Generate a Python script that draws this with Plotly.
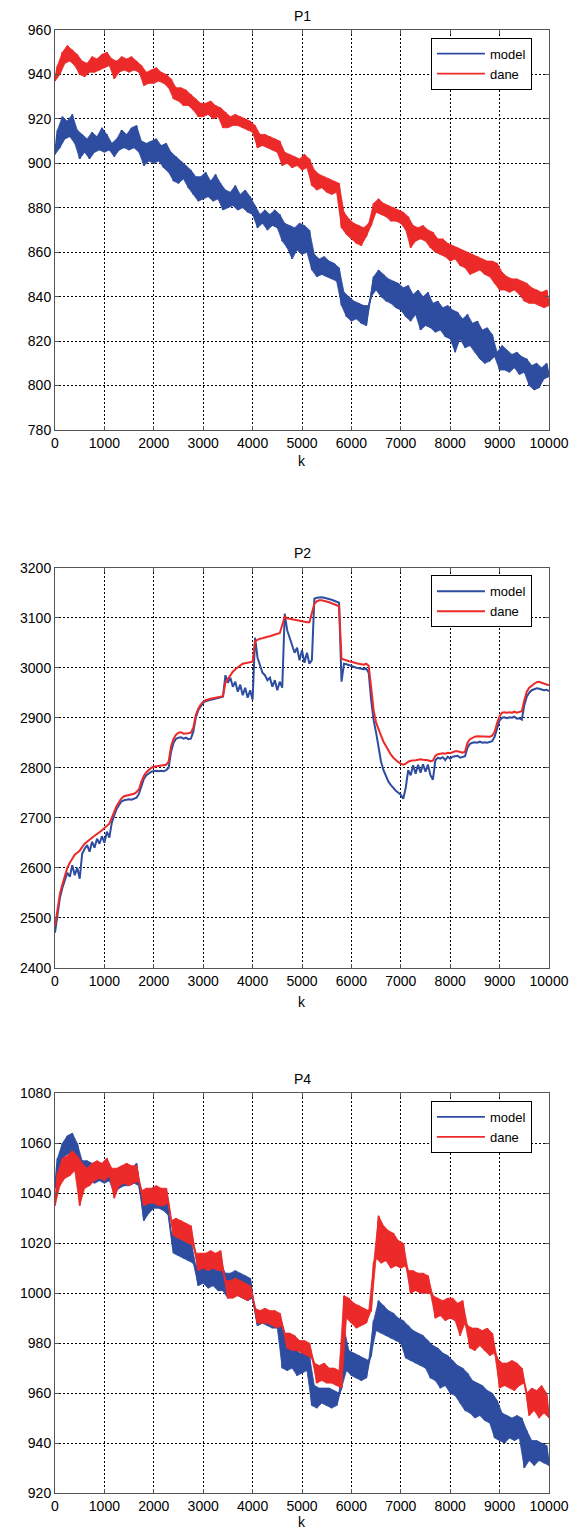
import plotly.graph_objects as go

# sample positions (k), every 50 steps
K = list(range(0, 10001, 50))

# ---------------- P1 ----------------
P1_MODEL = [
    904, 915, 907, 921, 911, 919, 912, 922, 909, 915,
    902, 913, 905, 911, 902, 914, 905, 912, 906, 916,
    905, 913, 906, 909, 903, 911, 906, 915, 907, 913,
    906, 916, 907, 917, 905, 910, 899, 909, 901, 910,
    900, 911, 901, 908, 898, 909, 896, 905, 892, 903,
    891, 901, 893, 899, 889, 897, 886, 894, 883, 894,
    884, 896, 885, 892, 883, 895, 884, 891, 879, 888,
    880, 887, 881, 890, 879, 886, 880, 888, 878, 885,
    877, 881, 871, 877, 873, 879, 870, 877, 872, 879,
    871, 877, 865, 873, 862, 872, 857, 871, 861, 873,
    859, 872, 860, 870, 852, 859, 849, 857, 850, 858,
    849, 856, 848, 855, 847, 853, 836, 842, 831, 840,
    829, 838, 830, 837, 828, 836, 827, 836, 840, 849,
    843, 852, 840, 850, 838, 848, 837, 847, 835, 846,
    834, 844, 831, 845, 829, 841, 832, 843, 825, 840,
    827, 842, 826, 837, 824, 838, 825, 835, 822, 836,
    821, 834, 815, 833, 821, 830, 817, 832, 818, 828,
    815, 829, 812, 825, 810, 826, 811, 823, 813, 815,
    807, 818, 807, 816, 806, 814, 808, 815, 805, 813,
    806, 812, 800, 809, 798, 810, 799, 808, 803, 810,
    804,
]
P1_DANE = [
    937, 944, 940, 950, 945, 953, 946, 951, 944, 949,
    940, 946, 939, 945, 941, 948, 941, 947, 942, 949,
    943, 950, 944, 947, 938, 946, 941, 948, 942, 947,
    941, 948, 942, 946, 941, 944, 935, 941, 936, 942,
    936, 943, 937, 941, 936, 940, 934, 938, 929, 934,
    928, 934, 926, 933, 926, 931, 924, 929, 921, 927,
    921, 927, 922, 928, 920, 926, 921, 925, 916, 923,
    916, 921, 917, 922, 917, 921, 916, 920, 915, 919,
    914, 917, 907, 913, 908, 913, 907, 912, 906, 911,
    905, 910, 899, 905, 900, 904, 898, 903, 899, 902,
    897, 904, 898, 902, 890, 897, 888, 895, 889, 894,
    887, 893, 886, 892, 887, 891, 871, 878, 868, 875,
    866, 873, 864, 872, 863, 871, 867, 873, 872, 882,
    878, 884, 877, 882, 876, 881, 874, 880, 874, 879,
    873, 878, 870, 876, 862, 872, 865, 871, 866, 872,
    865, 870, 862, 869, 860, 866, 859, 866, 858, 864,
    856, 863, 857, 862, 854, 861, 853, 860, 850, 859,
    851, 858, 852, 857, 850, 856, 849, 856, 846, 855,
    843, 851, 843, 849, 842, 848, 843, 848, 841, 847,
    838, 846, 837, 844, 837, 843, 836, 842, 835, 843,
    836,
]

# ---------------- P2 ----------------
P2_MODEL = [
    2470, 2510, 2540, 2560, 2575, 2590, 2582, 2605, 2585, 2600,
    2578, 2628, 2638, 2645, 2632, 2652, 2640, 2658, 2648, 2663,
    2650, 2672, 2660, 2690, 2705, 2718, 2726, 2733, 2735, 2736,
    2737, 2736, 2738, 2740, 2748, 2764, 2778, 2785, 2789, 2792,
    2793, 2794, 2793, 2794, 2793, 2795, 2800, 2832, 2850, 2858,
    2860, 2861, 2858, 2860, 2857, 2858, 2872, 2900, 2915, 2924,
    2930, 2933, 2935, 2936, 2937, 2938, 2939, 2940, 2942, 2985,
    2970, 2980, 2962, 2972, 2952, 2966, 2945, 2960, 2940, 2955,
    2936, 3060, 3020, 3005, 2990, 2985, 2975, 2980, 2962, 2975,
    2955, 2972, 2960, 3108, 3075, 3060, 3045, 3030, 3040, 3015,
    3035, 3010, 3030, 3008, 3015, 3138, 3140, 3141, 3141, 3140,
    3139, 3137, 3136, 3134, 3132, 3130, 2972, 3008, 3007, 3005,
    3003, 3002, 3000, 2999, 2998, 2997, 2998, 2990, 2935, 2895,
    2870, 2840, 2812, 2795, 2782, 2772, 2765, 2759, 2754, 2750,
    2746, 2738, 2760, 2795, 2785, 2805, 2788, 2806, 2790, 2807,
    2792, 2806, 2785, 2776, 2815, 2820, 2818, 2821, 2815, 2822,
    2818, 2822, 2823, 2824, 2820, 2822, 2823, 2840, 2848, 2850,
    2851, 2850, 2852, 2850, 2851, 2850, 2851, 2853, 2862, 2880,
    2895, 2900, 2901, 2899, 2901, 2900, 2902, 2898, 2899, 2896,
    2925, 2942, 2950, 2955, 2957, 2959, 2958, 2957, 2955, 2956,
    2953,
]
P2_DANE = [
    2483, 2520, 2548, 2567, 2585, 2600, 2610, 2618, 2626, 2630,
    2634, 2641, 2648, 2652, 2657, 2660, 2664, 2667, 2671, 2675,
    2679, 2683, 2688, 2700, 2712, 2724, 2732, 2739, 2743, 2744,
    2745, 2746, 2748, 2751, 2757, 2772, 2784, 2791, 2796, 2800,
    2802, 2803, 2804, 2804, 2805, 2806, 2812, 2843, 2858, 2866,
    2870, 2871, 2868, 2868, 2869, 2870, 2880, 2905, 2918, 2926,
    2932, 2935, 2937, 2938, 2939, 2940, 2941, 2942, 2943, 2970,
    2978, 2986, 2992, 2997, 3001, 3005, 3008, 3009, 3010, 3010,
    3012, 3053, 3056, 3058, 3059, 3061, 3062, 3063, 3065, 3066,
    3068, 3069, 3085, 3102, 3099, 3098, 3097, 3096, 3094, 3093,
    3092, 3092, 3091, 3091, 3110, 3128, 3133, 3135, 3135, 3134,
    3133, 3131, 3129, 3127, 3125, 3123, 3018, 3016, 3015, 3013,
    3012, 3010, 3009, 3008, 3007, 3006, 3008, 3004, 2960, 2915,
    2890, 2875, 2864, 2852, 2843, 2834, 2826, 2820, 2815, 2811,
    2808, 2806, 2808, 2812, 2814, 2814, 2815, 2816, 2817, 2816,
    2816, 2815, 2813, 2814, 2824, 2827, 2828, 2829, 2828, 2830,
    2829, 2831, 2833, 2833, 2831, 2830, 2832, 2850, 2857, 2860,
    2862, 2863, 2863, 2862, 2863, 2862, 2862, 2864, 2872, 2890,
    2903, 2910, 2911, 2910, 2911, 2910, 2912, 2910, 2911, 2913,
    2935, 2952, 2960, 2965, 2968, 2971, 2972, 2970, 2968, 2967,
    2965,
]

# ---------------- P4 ----------------
P4_MODEL = [
    1042, 1054, 1049, 1060, 1055, 1063, 1056, 1064, 1055, 1060,
    1047, 1053, 1046, 1053, 1045, 1052, 1044, 1051, 1045, 1051,
    1044, 1052, 1045, 1049, 1040, 1048, 1042, 1050, 1043, 1051,
    1043, 1050, 1044, 1052, 1043, 1038, 1029, 1040, 1032, 1041,
    1034, 1042, 1034, 1041, 1033, 1041, 1031, 1024, 1016, 1024,
    1015, 1023, 1014, 1022, 1013, 1021, 1012, 1011, 1003, 1012,
    1004, 1013, 1002, 1012, 1003, 1011, 1001, 1012, 1001, 1008,
    998, 1008, 1000, 1009, 999, 1008, 998, 1007, 997, 1006,
    998, 993, 987, 993, 988, 993, 987, 992, 986, 992,
    986, 991, 970, 982, 969, 979, 970, 978, 967, 976,
    968, 976, 969, 975, 955, 963, 954, 962, 956, 962,
    955, 962, 954, 961, 955, 960, 962, 986, 969, 977,
    967, 976, 966, 975, 965, 974, 966, 973, 975, 989,
    985, 997, 984, 995, 983, 993, 982, 992, 981, 990,
    980, 989, 974, 987, 973, 985, 972, 984, 971, 983,
    970, 981, 966, 979, 965, 978, 962, 976, 963, 975,
    960, 973, 959, 971, 956, 970, 953, 968, 952, 965,
    950, 964, 951, 963, 949, 961, 948, 960, 942, 957,
    941, 952, 940, 951, 942, 950, 941, 951, 942, 950,
    930, 945, 933, 941, 931, 941, 933, 940, 932, 939,
    931,
]
P4_DANE = [
    1035, 1048, 1043, 1054, 1046, 1055, 1047, 1057, 1049, 1055,
    1035, 1052, 1042, 1050, 1043, 1052, 1045, 1053, 1046, 1052,
    1045, 1054, 1047, 1050, 1038, 1050, 1043, 1051, 1044, 1052,
    1043, 1051, 1044, 1051, 1045, 1041, 1035, 1042, 1036, 1042,
    1036, 1043, 1035, 1042, 1035, 1042, 1036, 1029, 1023, 1030,
    1022, 1029, 1021, 1028, 1020, 1027, 1019, 1016, 1009, 1016,
    1010, 1016, 1009, 1017, 1010, 1016, 1009, 1017, 1009, 1005,
    998, 1005, 998, 1006, 999, 1005, 998, 1004, 997, 1003,
    999, 994, 988, 993, 988, 994, 988, 993, 987, 993,
    986, 992, 987, 984, 978, 984, 977, 983, 977, 981,
    976, 981, 975, 980, 974, 972, 964, 971, 965, 972,
    964, 970, 964, 970, 963, 969, 962, 999, 990, 998,
    988, 996, 986, 995, 987, 994, 988, 993, 993, 1012,
    1014, 1031, 1012, 1027, 1013, 1025, 1010, 1024, 1011, 1021,
    1010, 1020, 1011, 1009, 1000, 1009, 1001, 1008, 1000, 1008,
    1000, 1007, 1000, 999, 990, 998, 991, 997, 989, 998,
    990, 998, 989, 996, 983, 997, 988, 987, 978, 986,
    977, 986, 979, 985, 977, 986, 975, 984, 976, 974,
    962, 972, 963, 972, 962, 973, 961, 972, 963, 970,
    964, 960, 951, 962, 953, 961, 950, 963, 952, 960,
    950,
]

TITLES = ["P1", "P2", "P4"]
Y_RANGES = [(780, 960), (2400, 3200), (920, 1080)]
Y_DTICKS = [20, 100, 20]
X_TICKS = list(range(0, 10001, 1000))

BLUE = "#2E4DA0"
RED = "#EC2A2A"
FONT = "Liberation Sans, Arial, Helvetica, sans-serif"
FS = 14

# the page body has an 8px margin; size the figure so it fits the 581x1531 window
OFF = 8
W, H = 581 - OFF, 1531 - OFF
ML, MR, MT, MB = 50 - OFF, 31, 30 - OFF, 38
PH = H - MT - MB
AX_H = 400
AX_TOPS_PAGE = [30, 567.7, 1093.3]
domains = []
for tp in AX_TOPS_PAGE:
    t = tp - OFF
    top = 1 - (t - MT) / PH
    bot = top - AX_H / PH
    domains.append([max(0, bot), min(1, top)])

series = [(P1_MODEL, P1_DANE), (P2_MODEL, P2_DANE), (P4_MODEL, P4_DANE)]
noisy = [True, False, True]
widths = [1.8, 2.0, 1.8]
legend_names = ["legend", "legend2", "legend3"]

fig = go.Figure()
for i, (mod, dan) in enumerate(series):
    sfx = "" if i == 0 else str(i + 1)
    for name, vals, col in (("model", mod, BLUE), ("dane", dan, RED)):
        if noisy[i]:
            # dense noise band: troughs (even samples) forward, peaks (odd samples) back
            px = K[0::2] + K[1::2][::-1]
            py = vals[0::2] + vals[1::2][::-1]
            fig.add_trace(go.Scatter(x=px, y=py, mode="lines", fill="toself",
                                     fillcolor=col, line=dict(color=col, width=0.8),
                                     xaxis="x" + sfx, yaxis="y" + sfx,
                                     showlegend=False, hoverinfo="skip"))
        fig.add_trace(go.Scatter(x=K, y=vals, mode="lines", name=name,
                                 line=dict(color=col, width=widths[i]),
                                 xaxis="x" + sfx, yaxis="y" + sfx,
                                 legend=legend_names[i]))

axis_common = dict(
    showgrid=True, gridcolor="black", gridwidth=1, griddash="2px,2px",
    showline=True, linecolor="#555555", linewidth=1, mirror="ticks",
    ticks="inside", ticklen=4, tickcolor="#555555",
    zeroline=False, tickfont=dict(size=FS, color="black", family=FONT),
)

layout = dict(
    width=W, height=H,
    margin=dict(l=ML, r=MR, t=MT, b=MB),
    paper_bgcolor="white", plot_bgcolor="white",
    font=dict(family=FONT, size=FS, color="black"),
    annotations=[],
)
k_offsets = [31, 34, 29]
for i in range(3):
    sfx = "" if i == 0 else str(i + 1)
    layout["xaxis" + sfx] = dict(axis_common, domain=[0, 1], anchor="y" + sfx,
                                 range=[0, 10000], tickvals=X_TICKS,
                                 ticktext=[str(v) for v in X_TICKS])
    layout["yaxis" + sfx] = dict(axis_common, domain=domains[i], anchor="x" + sfx,
                                 range=list(Y_RANGES[i]), dtick=Y_DTICKS[i],
                                 tick0=Y_RANGES[i][0])
    layout[legend_names[i]] = dict(
        x=0.761, xanchor="left", y=domains[i][1] - 7.7 / PH, yanchor="top",
        bgcolor="white", bordercolor="black", borderwidth=1,
        font=dict(size=13, family=FONT, color="black"),
        tracegroupgap=0, itemwidth=48,
    )
    layout["annotations"].append(dict(
        text=TITLES[i], xref="paper", yref="paper", x=0.5, y=domains[i][1],
        xanchor="center", yanchor="middle", yshift=14.5, showarrow=False,
        font=dict(size=FS, family=FONT, color="black")))
    layout["annotations"].append(dict(
        text="k", xref="paper", yref="paper", x=0.5, y=domains[i][0],
        xanchor="center", yanchor="middle", yshift=-k_offsets[i], showarrow=False,
        borderpad=0,
        font=dict(size=FS, family=FONT, color="black")))

fig.update_layout(**layout)
fig.write_html("out.html")
